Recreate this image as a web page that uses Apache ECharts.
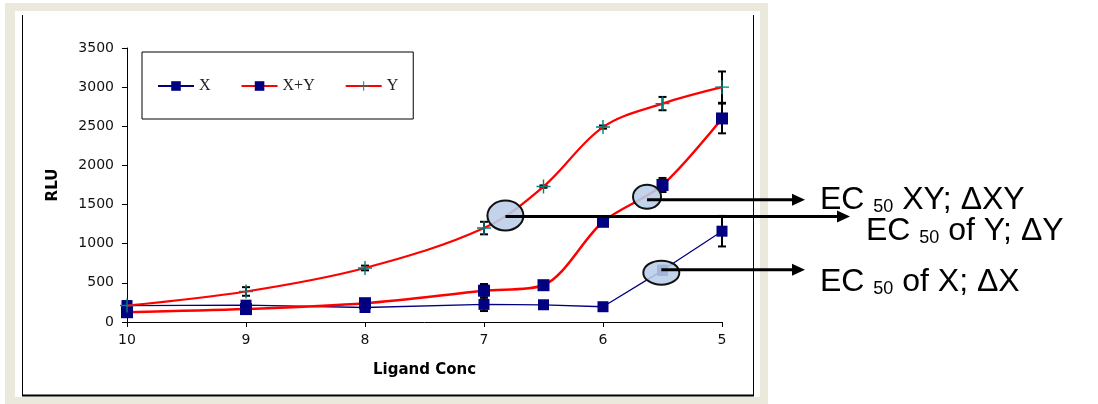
<!DOCTYPE html>
<html>
<head>
<meta charset="utf-8">
<style>
  html, body { margin: 0; padding: 0; background: #ffffff; }
  #chart { width: 1098px; height: 404px; }
</style>
<script src="https://cdn.jsdelivr.net/npm/echarts@6/dist/echarts.min.js"></script>
</head>
<body>
<div id="chart"></div>
<script>
// Ligand concentration (-log M) and luminescence readings
const conc   = [10, 9, 8, 7, 6.5, 6, 5.5, 5];
const rluX   = [210, 215, 185, 225, 220, 195, 660, 1160];
const errX   = [0, 0, 0, 85, 0, 0, 60, 195];
const rluXY  = [125, 165, 240, 400, 470, 1280, 1750, 2600];
const errXY  = [0, 0, 0, 85, 0, 0, 90, 190];
const rluY   = [210, 390, 690, 1200, 1730, 2490, 2790, 3000];
const errY   = [0, 55, 30, 80, 15, 20, 85, 200];
const seriesNames = ['X', 'X+Y', 'Y'];
const yTicks = { min: 0, max: 3500, step: 500 };
const xTicks = { min: 5, max: 10, step: 1 };

// EC50 call-outs: anchor on the curve (data units) and label pieces
const callouts = [
  { at: [5.63, 1600], rx: 14, ry: 12, lineDy: 3, tipX: 805, textX: 820, base: 209,
    parts: [['EC ', 'main'], ['50', 'sub'], [' XY; \u0394XY', 'main']] },
  { at: [6.82, 1360], rx: 18, ry: 15, lineDy: 1, tipX: 850, textX: 866, base: 240,
    parts: [['EC ', 'main'], ['50', 'sub'], [' of Y; \u0394Y', 'main']] },
  { at: [5.51, 630], rx: 18, ry: 12, lineDy: -3, tipX: 805, textX: 820, base: 291,
    parts: [['EC ', 'main'], ['50', 'sub'], [' of X; \u0394X', 'main']] }
];

const NAVY = '#000080';
const RED = '#ff0000';
const TEAL = '#008080';
const plusPath = 'path://M0,9L20,9L20,11L0,11Z M9,0L11,0L11,20L9,20Z';

const pairs = vals => conc.map((c, i) => [c, vals[i]]);

function errorBars(name, vals, errs) {
  return {
    type: 'custom',
    name: name,
    z: 1,
    silent: true,
    data: conc.map((c, i) => [c, vals[i], errs[i]]).filter(d => d[2] > 0),
    encode: { x: 0, y: 1 },
    renderItem: function (params, api) {
      const x = api.value(0), y = api.value(1), e = api.value(2);
      const top = api.coord([x, y + e]);
      const bot = api.coord([x, y - e]);
      const hw = 4;
      const st = { stroke: '#000000', lineWidth: 2 };
      return {
        type: 'group',
        children: [
          { type: 'line', shape: { x1: top[0], y1: top[1], x2: bot[0], y2: bot[1] }, style: st },
          { type: 'line', shape: { x1: top[0] - hw, y1: top[1], x2: top[0] + hw, y2: top[1] }, style: st },
          { type: 'line', shape: { x1: bot[0] - hw, y1: bot[1], x2: bot[0] + hw, y2: bot[1] }, style: st }
        ]
      };
    }
  };
}

const chart = echarts.init(document.getElementById('chart'), null, { renderer: 'canvas' });

const axisFont = { fontFamily: 'DejaVu Sans', fontSize: 14, color: '#111111' };
const nameFont = { fontFamily: 'DejaVu Sans', fontSize: 15, fontWeight: 'bold', color: '#000000' };
const plain = v => String(v);

const option = {
  animation: false,
  backgroundColor: '#ffffff',
  grid: { left: 127, right: 376, top: 48, bottom: 82, containLabel: false, outerBoundsMode: 'none' },
  legend: {
    data: seriesNames,
    left: 142,
    top: 52,
    orient: 'horizontal',
    itemWidth: 36,
    itemHeight: 12,
    itemGap: 30,
    padding: [26, 15, 25, 15],
    borderColor: '#000000',
    borderWidth: 1,
    textStyle: { fontFamily: 'Liberation Serif', fontSize: 16, color: '#222222' },
    selectedMode: false
  },
  xAxis: {
    type: 'value',
    inverse: true,
    min: xTicks.min,
    max: xTicks.max,
    interval: xTicks.step,
    name: 'Ligand Conc',
    nameLocation: 'middle',
    nameGap: 41,
    nameTextStyle: nameFont,
    axisLine: { show: true, onZero: false, lineStyle: { color: '#000000', width: 1 } },
    axisTick: { show: true, length: 5, lineStyle: { color: '#000000' } },
    axisLabel: Object.assign({ margin: 11, formatter: plain }, axisFont),
    splitLine: { show: false }
  },
  yAxis: {
    type: 'value',
    min: yTicks.min,
    max: yTicks.max,
    interval: yTicks.step,
    name: 'RLU',
    nameLocation: 'middle',
    nameGap: 66,
    nameRotate: 90,
    nameTextStyle: nameFont,
    axisLine: { show: true, lineStyle: { color: '#000000', width: 1 } },
    axisTick: { show: true, length: 5, lineStyle: { color: '#000000' } },
    axisLabel: Object.assign({ margin: 13, formatter: plain }, axisFont),
    splitLine: { show: false }
  },
  series: [
    errorBars('X err', rluX, errX),
    errorBars('X+Y err', rluXY, errXY),
    errorBars('Y err', rluY, errY),
    {
      type: 'line', name: 'X', data: pairs(rluX), z: 3,
      symbol: 'rect', symbolSize: 11,
      lineStyle: { color: NAVY, width: 1.3 },
      itemStyle: { color: NAVY }
    },
    {
      type: 'line', name: 'X+Y', data: pairs(rluXY), z: 4,
      smooth: 0.3,
      symbol: 'rect', symbolSize: 12,
      lineStyle: { color: RED, width: 2.5 },
      itemStyle: { color: NAVY }
    },
    {
      type: 'line', name: 'Y', data: pairs(rluY), z: 5,
      smooth: 0.35,
      symbol: plusPath, symbolSize: 14,
      lineStyle: { color: RED, width: 2.2 },
      itemStyle: { color: TEAL }
    }
  ]
};

chart.setOption(option);

// Page frame: beige mat, white panel and the chart border
const frame = [
  { type: 'rect', z: -100, silent: true, shape: { x: 5, y: 3, width: 763, height: 401 }, style: { fill: '#ebe8dc' } },
  { type: 'rect', z: -99, silent: true, shape: { x: 15, y: 11, width: 745, height: 386 }, style: { fill: '#ffffff' } },
  { type: 'line', z: -98, silent: true, shape: { x1: 22.5, y1: 15, x2: 22.5, y2: 396 }, style: { stroke: '#000000', lineWidth: 1 } },
  { type: 'line', z: -98, silent: true, shape: { x1: 753.5, y1: 15, x2: 753.5, y2: 396 }, style: { stroke: '#000000', lineWidth: 1 } },
  { type: 'line', z: -98, silent: true, shape: { x1: 22, y1: 395.5, x2: 754, y2: 395.5 }, style: { stroke: '#000000', lineWidth: 2 } }
];

// EC50 markers, arrows and labels
const fonts = {
  main: { size: 32, family: 'Liberation Sans', drop: 0 },
  sub:  { size: 18, family: 'Liberation Sans', drop: 3 }
};
const measure = document.createElement('canvas').getContext('2d');
const notes = [];
callouts.forEach(c => {
  const p = chart.convertToPixel({ gridIndex: 0 }, c.at);
  notes.push({
    type: 'ellipse', z: 100, silent: true,
    shape: { cx: p[0], cy: p[1], rx: c.rx, ry: c.ry },
    style: { fill: 'rgba(186,206,232,0.88)', stroke: '#111111', lineWidth: 2 }
  });
  const ly = p[1] + c.lineDy;
  notes.push({
    type: 'line', z: 101, silent: true,
    shape: { x1: p[0], y1: ly, x2: c.tipX - 11, y2: ly },
    style: { stroke: '#000000', lineWidth: 3 }
  });
  notes.push({
    type: 'polygon', z: 101, silent: true,
    shape: { points: [[c.tipX - 13, ly - 6], [c.tipX, ly], [c.tipX - 13, ly + 6]] },
    style: { fill: '#000000' }
  });
  let x = c.textX;
  c.parts.forEach(([txt, kind]) => {
    const f = fonts[kind];
    measure.font = f.size + 'px "' + f.family + '"';
    notes.push({
      type: 'text', z: 102, silent: true,
      x: x, y: c.base + f.drop,
      style: {
        text: txt, fill: '#000000',
        font: f.size + 'px "' + f.family + '"',
        align: 'left', verticalAlign: 'bottom'
      }
    });
    x += measure.measureText(txt).width;
  });
});

// bottom-aligned text sits on the descender line; lift it onto the baseline
notes.forEach(n => {
  if (n.type === 'text') {
    const size = parseInt(n.style.font, 10);
    n.y += Math.round(size * 0.212);
  }
});

chart.setOption({ graphic: { elements: frame.concat(notes) } });
</script>
</body>
</html>
